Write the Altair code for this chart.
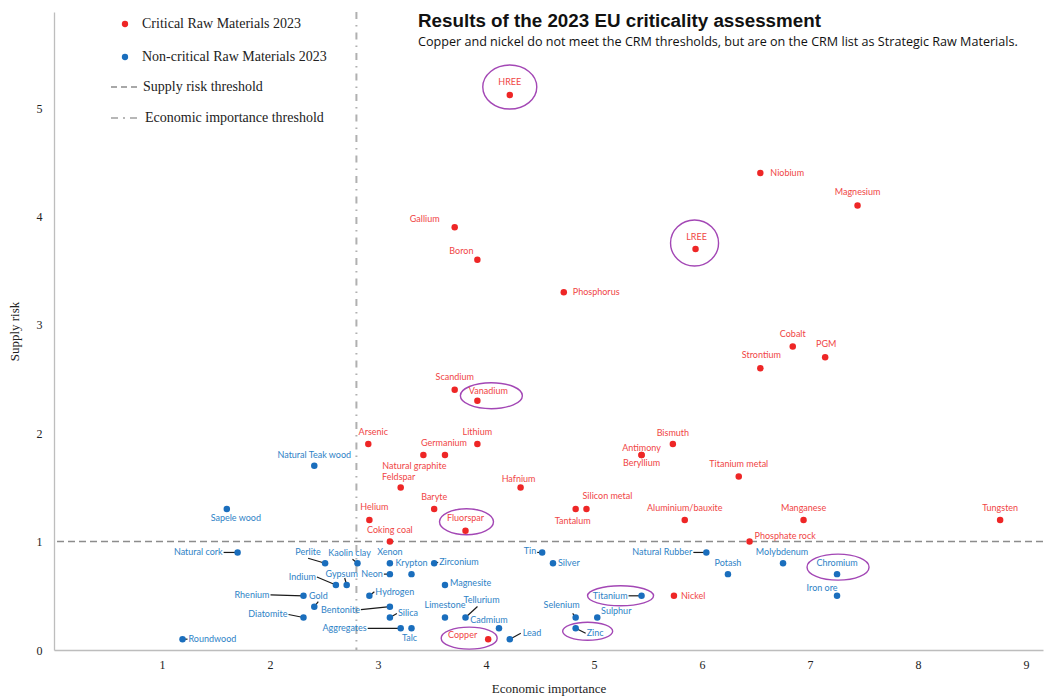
import altair as alt
import pandas as pd

# ---------------- data ----------------
crit_names = ["HREE", "Niobium", "Magnesium", "Gallium", "LREE", "Boron", "Phosphorus",
              "Cobalt", "PGM", "Strontium", "Scandium", "Vanadium", "Arsenic", "Lithium",
              "Bismuth", "Germanium", "Natural graphite", "Antimony", "Beryllium",
              "Titanium metal", "Feldspar", "Hafnium", "Baryte", "Tantalum", "Silicon metal",
              "Helium", "Aluminium/bauxite", "Manganese", "Tungsten", "Fluorspar",
              "Coking coal", "Phosphate rock", "Nickel", "Copper"]
crit_econ = [4.22, 6.54, 7.44, 3.71, 5.94, 3.92, 4.72,
             6.84, 7.14, 6.54, 3.71, 3.92, 2.91, 3.92,
             5.73, 3.62, 3.42, 5.44, 5.44,
             6.34, 3.21, 4.32, 3.52, 4.83, 4.93,
             2.92, 5.84, 6.94, 8.76, 3.81,
             3.11, 6.44, 5.74, 4.02]
crit_risk = [5.12, 4.4, 4.1, 3.9, 3.7, 3.6, 3.3,
             2.8, 2.7, 2.6, 2.4, 2.3, 1.9, 1.9,
             1.9, 1.8, 1.8, 1.8, 1.8,
             1.6, 1.5, 1.5, 1.3, 1.3, 1.3,
             1.2, 1.2, 1.2, 1.2, 1.1,
             1.0, 1.0, 0.5, 0.1]

non_names = ["Natural Teak wood", "Sapele wood", "Natural cork", "Tin", "Natural Rubber",
             "Perlite", "Kaolin clay", "Xenon", "Zirconium", "Silver", "Molybdenum",
             "Neon", "Krypton", "Potash", "Chromium", "Indium", "Gypsum", "Magnesite",
             "Rhenium", "Hydrogen", "Titanium", "Iron ore", "Gold", "Bentonite",
             "Diatomite", "Silica", "Limestone", "Tellurium", "Selenium", "Sulphur",
             "Aggregates", "Talc", "Cadmium", "Zinc", "Roundwood", "Lead"]
non_econ = [2.41, 1.60, 1.70, 4.52, 6.04,
            2.51, 2.81, 3.11, 3.52, 4.62, 6.75,
            3.11, 3.31, 6.24, 7.25, 2.61, 2.71, 3.62,
            2.31, 2.92, 5.44, 7.25, 2.41, 3.11,
            2.31, 3.11, 3.62, 3.81, 4.83, 5.03,
            3.21, 3.31, 4.12, 4.83, 1.19, 4.22]
non_risk = [1.7, 1.3, 0.9, 0.9, 0.9,
            0.8, 0.8, 0.8, 0.8, 0.8, 0.8,
            0.7, 0.7, 0.7, 0.7, 0.6, 0.6, 0.6,
            0.5, 0.5, 0.5, 0.5, 0.4, 0.4,
            0.3, 0.3, 0.3, 0.3, 0.3, 0.3,
            0.2, 0.2, 0.2, 0.2, 0.1, 0.1]

highlighted = ["HREE", "LREE", "Vanadium", "Fluorspar", "Copper", "Titanium", "Zinc", "Chromium"]

supply_risk_threshold = 1.0
economic_importance_threshold = 2.8

x_ticks = [1, 2, 3, 4, 5, 6, 7, 8, 9]
y_ticks = [0, 1, 2, 3, 4, 5]

groups = ["Critical Raw Materials 2023", "Non-critical Raw Materials 2023"]
threshold_labels = ["Supply risk threshold", "Economic importance threshold"]
title_text = "Results of the 2023 EU criticality assessment"
subtitle_text = ("Copper and nickel do not meet the CRM thresholds, but are on the CRM list "
                 "as Strategic Raw Materials.")

# ---------------- layout / style ----------------
W, H = 989, 638
X_MAX, Y_MAX = 9.157, 5.886
PX_X = W / X_MAX
PX_Y = H / Y_MAX

RED_DOT, RED_TXT = "#EE2626", "#F04545"
BLUE_DOT, BLUE_TXT = "#1A6EBD", "#2E82C6"
PURPLE = "#A347B5"
SERIF = "Liberation Serif"
SANS = "Lato"
TITLE_FONT = "Liberation Sans"
SUB_FONT = "Open Sans"
LABEL_SIZE = 9

# label offsets in pixels: (dx, dy, align[, leader_end_dx, leader_end_dy])
LABEL_LAYOUT = {
    "HREE": (0, -13, "center"), "Niobium": (10, 0, "left"), "Magnesium": (0, -14, "center"),
    "Gallium": (-30, -8, "center"), "LREE": (1, -12, "center"), "Boron": (-16, -9, "center"),
    "Phosphorus": (9, 0, "left"), "Cobalt": (0, -13, "center"), "PGM": (1, -13, "center"),
    "Strontium": (1, -13, "center"), "Scandium": (0, -13, "center"),
    "Vanadium": (11, -10, "center"), "Arsenic": (5, -12, "center"), "Lithium": (0, -12, "center"),
    "Bismuth": (0, -11, "center"), "Germanium": (-1, -12, "center"),
    "Natural graphite": (-9, 11, "center"), "Antimony": (0, -7, "center"),
    "Beryllium": (0, 8, "center"), "Titanium metal": (0, -13, "center"),
    "Feldspar": (-2, -10, "center"), "Hafnium": (-2, -8, "center"), "Baryte": (0, -12, "center"),
    "Tantalum": (-3, 12, "center"), "Silicon metal": (21, -13, "center"),
    "Helium": (5, -13, "center"), "Aluminium/bauxite": (0, -12, "center"),
    "Manganese": (0, -12, "center"), "Tungsten": (0, -12, "center"),
    "Fluorspar": (0, -13, "center"), "Coking coal": (0, -12, "center"),
    "Phosphate rock": (5, -6, "left"), "Nickel": (7, 0, "left"), "Copper": (-11, -4, "right"),
    "Natural Teak wood": (0, -11, "center"), "Sapele wood": (9, 9, "center"),
    "Natural cork": (-15, 0, "right", -14, 0), "Tin": (-6, -1, "right", -5, 0),
    "Natural Rubber": (-14, 0, "right", -13, 0), "Perlite": (-17, -11, "center", -17, -5),
    "Kaolin clay": (-8, -10, "center", -5, -4), "Xenon": (0, -11, "center"),
    "Zirconium": (5, -1, "left", 4, -1), "Silver": (5, 0, "left"),
    "Molybdenum": (-1, -11, "center"), "Neon": (-7, 0, "right", -6, 0),
    "Krypton": (0, -11, "center"), "Potash": (0, -11, "center"), "Chromium": (0, -11, "center"),
    "Indium": (-20, -8, "right", -19, -8), "Gypsum": (-5, -11, "center", -2, -7),
    "Magnesite": (5, -2, "left"), "Rhenium": (-34, -1, "right", -33, -1),
    "Hydrogen": (6, -4, "left", 5, -4), "Titanium": (-14, 0, "right", -13, 0),
    "Iron ore": (-15, -8, "center"), "Gold": (4, -11, "center", 4, -5),
    "Bentonite": (-30, 3, "right", -29, 3), "Diatomite": (-16, -3, "right", -15, -3),
    "Silica": (8, -4, "left", 7, -4), "Limestone": (0, -12, "center"),
    "Tellurium": (16, -17, "center", 12, -11), "Selenium": (-14, -12, "center", -3, -4),
    "Sulphur": (19, -6, "center"), "Aggregates": (-34, 0, "right", -33, 0),
    "Talc": (-2, 10, "center"), "Cadmium": (-10, -8, "center"),
    "Zinc": (11, 5, "left", 10, 5), "Roundwood": (6, 0, "left", 5, 0),
    "Lead": (13, -6, "left", 11, -6),
}
# ellipse centre offset (px) and radii (px)
ELLIPSE_LAYOUT = {
    "HREE": (0, -8, 27, 22), "LREE": (-1, -6, 24, 23), "Vanadium": (14, -5, 31, 13),
    "Fluorspar": (1, -9, 27, 13), "Copper": (-19, -1, 28, 11), "Titanium": (-21, 0, 33, 10),
    "Zinc": (12, 3, 25, 9), "Chromium": (1, -7, 31, 13),
}

# ---------------- build tables ----------------
rows = []
for names, econ, risk, grp in [(crit_names, crit_econ, crit_risk, groups[0]),
                               (non_names, non_econ, non_risk, groups[1])]:
    for n, e, r in zip(names, econ, risk):
        lay = LABEL_LAYOUT[n]
        dx, dy, al = lay[0], lay[1], lay[2]
        row = {"name": n, "econ": e, "risk": r, "group": grp, "align": al,
               "lab_x": e + dx / PX_X, "lab_y": r - dy / PX_Y,
               "lead": len(lay) > 3}
        if len(lay) > 3:
            row["lead_x"] = e + lay[3] / PX_X
            row["lead_y"] = r - lay[4] / PX_Y
        else:
            row["lead_x"] = e
            row["lead_y"] = r
        rows.append(row)
df = pd.DataFrame(rows)

ell_rows = []
for n in highlighted:
    r0 = df[df["name"] == n].iloc[0]
    dx, dy, rx, ry = ELLIPSE_LAYOUT[n]
    ratio = ry / rx
    path = f"M -1 0 A 1 {ratio:.3f} 0 1 1 1 0 A 1 {ratio:.3f} 0 1 1 -1 0 Z"
    ell_rows.append({"name": n, "ex": r0["econ"] + dx / PX_X, "ey": r0["risk"] - dy / PX_Y,
                     "shape": path, "size": (2 * rx) ** 2})
df_ell = pd.DataFrame(ell_rows)

x_scale = alt.Scale(domain=[0, X_MAX], nice=False, zero=False)
y_scale = alt.Scale(domain=[0, Y_MAX], nice=False, zero=False)
x_axis = alt.Axis(values=x_ticks, format="d", grid=False, ticks=False, labelPadding=9,
                  labelFont=SERIF, labelFontSize=12, labelColor="#222",
                  domainColor="#BDBDBD", domainWidth=1.3,
                  title="Economic importance", titleFont=SERIF, titleFontSize=13,
                  titleFontWeight="normal", titleColor="#222", titlePadding=12)
y_axis = alt.Axis(values=y_ticks, format="d", grid=False, ticks=False, labelPadding=12,
                  labelFont=SERIF, labelFontSize=12, labelColor="#222",
                  domainColor="#BDBDBD", domainWidth=1.3,
                  title="Supply risk", titleFont=SERIF, titleFontSize=13,
                  titleFontWeight="normal", titleColor="#222", titlePadding=15)


def X(field):
    return alt.X(f"{field}:Q", scale=x_scale, axis=x_axis)


def Y(field):
    return alt.Y(f"{field}:Q", scale=y_scale, axis=y_axis)


base = alt.Chart(df)

h_thresh = alt.Chart(pd.DataFrame({"v": [supply_risk_threshold]})).mark_rule(
    color="#8C8C8C", strokeWidth=1.5, strokeDash=[7, 4]).encode(y=Y("v"))
v_thresh = alt.Chart(pd.DataFrame({"v": [economic_importance_threshold]})).mark_rule(
    color="#B0B0B0", strokeWidth=2, strokeDash=[7, 6, 1.5, 6]).encode(x=X("v"))

leaders = base.transform_filter("datum.lead").mark_rule(
    color="#1a1a1a", strokeWidth=1.2).encode(
    x=X("econ"), y=Y("risk"), x2="lead_x:Q", y2="lead_y:Q")

points = base.mark_circle(size=42, opacity=1).encode(
    x=X("econ"), y=Y("risk"),
    color=alt.Color("group:N", scale=alt.Scale(domain=groups, range=[RED_DOT, BLUE_DOT]),
                    legend=None))

text_layers = []
for al in ["left", "center", "right"]:
    text_layers.append(
        base.transform_filter(f"datum.align == '{al}'").mark_text(
            align=al, baseline="middle", font=SANS, fontSize=LABEL_SIZE).encode(
            x=X("lab_x"), y=Y("lab_y"), text="name:N",
            color=alt.Color("group:N", scale=alt.Scale(domain=groups,
                                                        range=[RED_TXT, BLUE_TXT]),
                            legend=None)))

ellipses = alt.Chart(df_ell).mark_point(filled=False, color=PURPLE, strokeWidth=1.4,
                                        opacity=1).encode(
    x=X("ex"), y=Y("ey"),
    shape=alt.Shape("shape:N", scale=None),
    size=alt.Size("size:Q", scale=None))

one = pd.DataFrame({"a": [0]})
leg = [
    alt.Chart(one).mark_circle(size=40, color=RED_DOT, opacity=1).encode(
        x=alt.value(71), y=alt.value(12)),
    alt.Chart(one).mark_text(align="left", baseline="middle", font=SERIF, fontSize=14,
                             color="#222").encode(x=alt.value(88), y=alt.value(12),
                                                  text=alt.value(groups[0])),
    alt.Chart(one).mark_circle(size=40, color=BLUE_DOT, opacity=1).encode(
        x=alt.value(71), y=alt.value(45)),
    alt.Chart(one).mark_text(align="left", baseline="middle", font=SERIF, fontSize=14,
                             color="#222").encode(x=alt.value(88), y=alt.value(45),
                                                  text=alt.value(groups[1])),
    alt.Chart(one).mark_rule(color="#8C8C8C", strokeWidth=1.5, strokeDash=[6, 4]).encode(
        x=alt.value(57), x2=alt.value(84), y=alt.value(75)),
    alt.Chart(one).mark_text(align="left", baseline="middle", font=SERIF, fontSize=14,
                             color="#222").encode(x=alt.value(89), y=alt.value(75),
                                                  text=alt.value(threshold_labels[0])),
    alt.Chart(one).mark_rule(color="#A0A0A0", strokeWidth=1.5,
                             strokeDash=[7, 5, 2, 5]).encode(
        x=alt.value(57), x2=alt.value(84), y=alt.value(106)),
    alt.Chart(one).mark_text(align="left", baseline="middle", font=SERIF, fontSize=14,
                             color="#222").encode(x=alt.value(91), y=alt.value(106),
                                                  text=alt.value(threshold_labels[1])),
    alt.Chart(one).mark_text(align="left", baseline="alphabetic", font=TITLE_FONT,
                             fontSize=18.8, fontWeight="bold", color="#111").encode(
        x=alt.value(364), y=alt.value(15), text=alt.value(title_text)),
    alt.Chart(one).mark_text(align="left", baseline="middle", font=SUB_FONT, fontSize=12.6,
                             color="#111").encode(
        x=alt.value(364), y=alt.value(30), text=alt.value(subtitle_text)),
]

chart = alt.layer(h_thresh, v_thresh, leaders, ellipses, points, *text_layers, *leg).resolve_scale(
    color="independent").properties(
    width=W, height=H,
    autosize=alt.AutoSizeParams(type="none"),
    padding={"left": 46, "top": 4, "right": 2, "bottom": 50},
    background="white",
).configure_view(stroke=None)

chart.save("out.html", embed_options={"renderer": "svg", "actions": False})
